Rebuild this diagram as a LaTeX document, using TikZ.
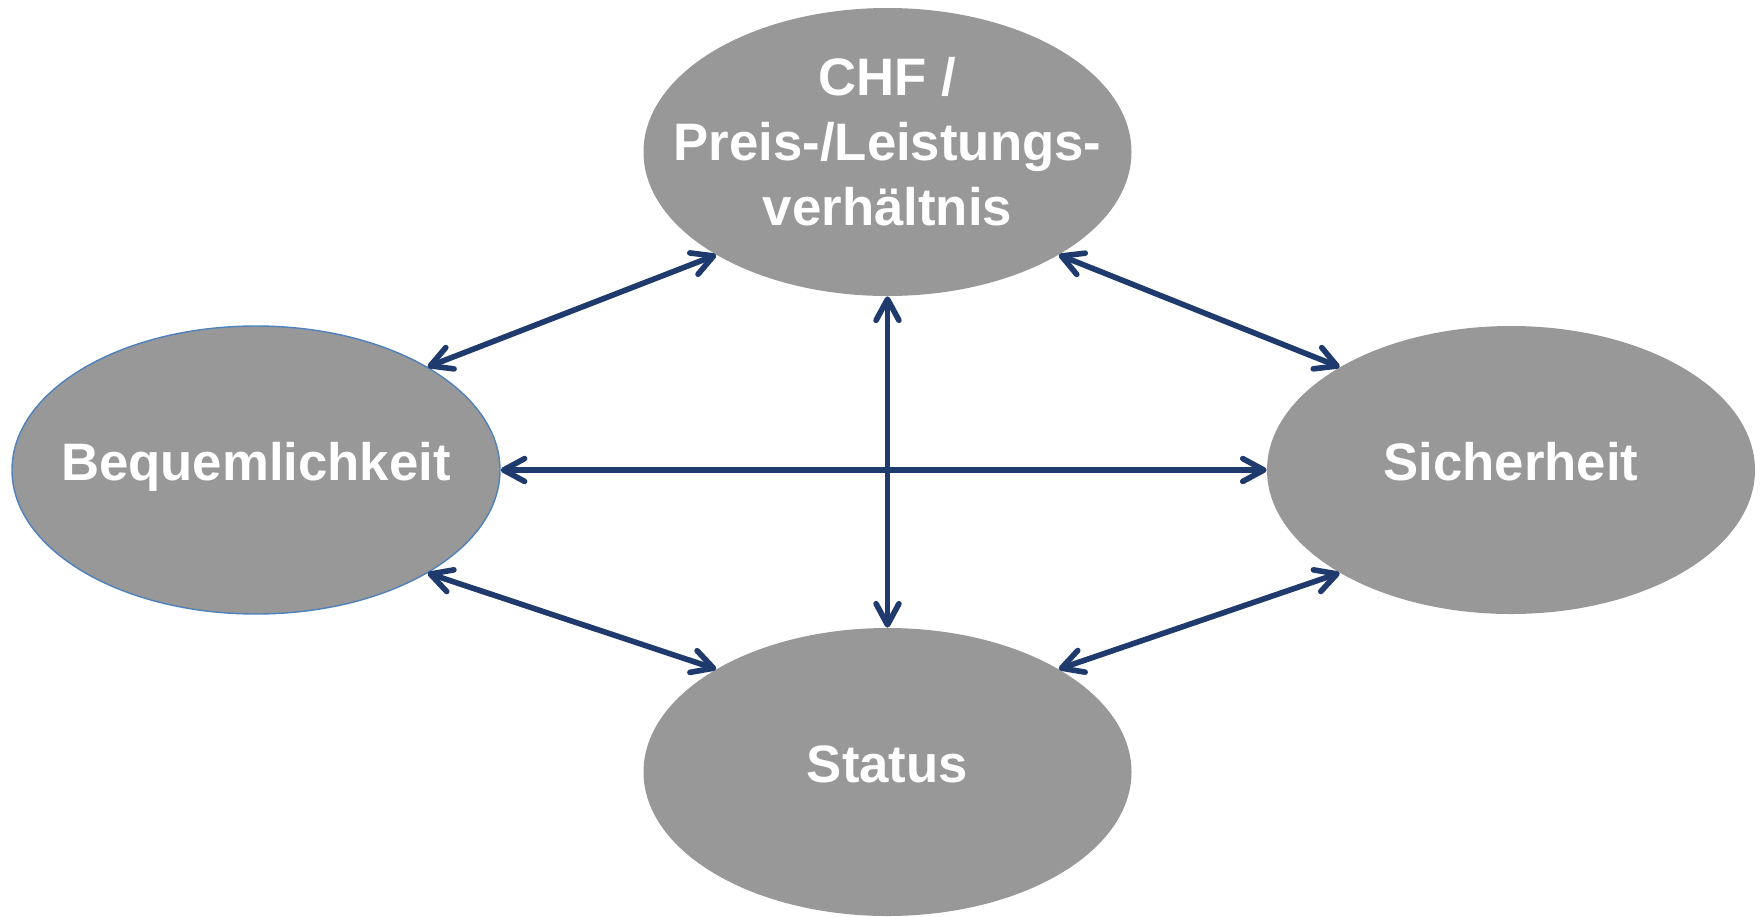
\documentclass[tikz,border=0pt]{standalone}
\usepackage{fontspec}
\setmainfont{Liberation Sans}
\usepackage{xcolor}
\usepackage{tikz}
\usetikzlibrary{arrows.meta, positioning, shapes.geometric}

\definecolor{blobgray}{RGB}{152,152,152}
\definecolor{linkblue}{RGB}{31,59,110}
\definecolor{rimblue}{RGB}{79,129,189}

\begin{document}
\begin{tikzpicture}[
    blob/.style={ellipse, fill=blobgray, minimum width=9.76cm, minimum height=5.76cm,
        inner xsep=-2.5cm, inner ysep=0pt, text=white, font=\bfseries\fontsize{30}{37}\selectfont},
    oneline/.style={text height=21pt, text depth=9pt},
    link/.style={draw=linkblue, line width=3.2pt, {Straight Barb[length=12pt, width=13pt, round]}-{Straight Barb[length=12pt, width=13pt, round]}}]

    \useasboundingbox (0,0) rectangle (35.24,-18.32);

    \node[blob, align=center, text depth=12pt] (chf) at (17.75,-3.04) {CHF /\\Preis-/Leistungs-\\verhältnis};
    \node[blob, oneline, draw=rimblue, line width=0.8pt] (bequem) at (5.12,-9.40) {Bequemlichkeit};
    \node[blob, oneline] (sicher) at (30.22,-9.40) {Sicherheit};
    \node[blob, oneline] (status) at (17.75,-15.44) {Status};

    \draw[link] (bequem.31) -- (chf.211);
    \draw[link] (chf.329) -- (sicher.149);
    \draw[link] (chf.south) -- (status.north);
    \draw[link] (bequem.east) -- (sicher.west);
    \draw[link] (bequem.329) -- (status.149);
    \draw[link] (status.31) -- (sicher.211);
\end{tikzpicture}
\end{document}
